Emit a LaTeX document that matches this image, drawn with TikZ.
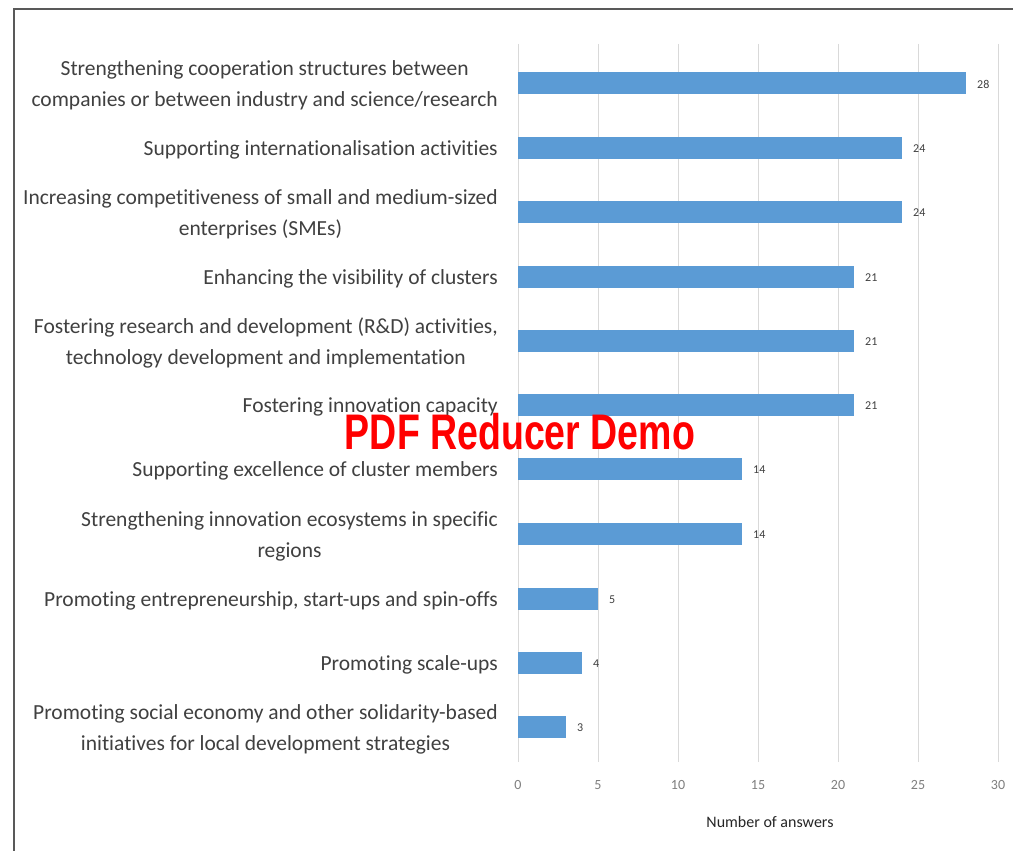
\documentclass[tikz,border=0pt]{standalone}
\usepackage{fontspec}
\setmainfont[Ligatures=NoCommon]{Carlito}
\newfontfamily\markfont{Liberation Sans}
\usetikzlibrary{positioning,calc}

\definecolor{barblue}{HTML}{5B9BD5}
\definecolor{labelgray}{HTML}{404040}
\definecolor{tickgray}{HTML}{7F7F7F}
\definecolor{gridgray}{HTML}{D9D9D9}
\definecolor{framegray}{HTML}{595959}

\tikzset{
	catlabel/.style={anchor=east, align=center, inner sep=0pt, text=labelgray,
		font=\fontsize{21.5}{31}\selectfont},
	vallabel/.style={anchor=west, inner sep=0pt, text=labelgray,
		font=\fontsize{12}{14}\selectfont},
	ticklabel/.style={inner sep=0pt, text=tickgray, font=\fontsize{14}{16}\selectfont},
	barfill/.style={fill=barblue},
	gridline/.style={draw=gridgray, line width=0.8pt},
}

\begin{document}
\begin{tikzpicture}[x=1pt, y=-1pt]
	
	% ------------------------------------------------
	% Page size and frame
	\useasboundingbox (0,0) rectangle (1013,851);
	\fill[white] (0,0) rectangle (1013,851);
	\draw[framegray, line width=1.5pt] (14,851) -- (14,9) -- (1013,9);
	
	% ------------------------------------------------
	% Axis origin and scale: 16 per answer
	\coordinate (Origin) at (518,0);
	
	% ----------------
	% Grid and ticks
	\foreach \v in {0,5,...,30}{
		\draw[gridline] (518+16*\v,44) -- (518+16*\v,762);
		\node[ticklabel] (Tick\v) at (518+16*\v,785) {\v};
	}
	
	% ----------------
	% Bars with category and value labels
	\foreach \val/\yy/\txt [count=\i] in {
		28/83/{Strengthening cooperation structures between\\companies or between industry and science/research},
		24/148/{Supporting internationalisation activities},
		24/212/{Increasing competitiveness of small and medium-sized\\enterprises (SMEs)},
		21/277/{Enhancing the visibility of clusters},
		21/341/{Fostering research and development (R\&D) activities,\\technology development and implementation},
		21/405/{Fostering innovation capacity},
		14/469/{Supporting excellence of cluster members},
		14/534/{Strengthening innovation ecosystems in specific\\regions},
		5/599/{Promoting entrepreneurship, start-ups and spin-offs},
		4/663/{Promoting scale-ups},
		3/727/{Promoting social economy and other solidarity-based\\initiatives for local development strategies}}{
		\fill[barfill] (518,\yy-11) rectangle (518+16*\val,\yy+11);
		\node[catlabel] (Cat\i) at (498,\yy+2) {\txt};
		\node[vallabel] (Val\i) at (518+16*\val+11,\yy+1) {\val};
	}
	
	% ----------------
	% Axis title
	\node[inner sep=0pt, text=black!85, font=\fontsize{16}{18}\selectfont] (AxisTitle) at (770,822) {Number of answers};
	
	% ----------------
	% Watermark
	\node[inner sep=0pt, text=red, xscale=0.75, font=\markfont\bfseries\fontsize{50}{50}\selectfont] (Mark) at (520,432) {PDF Reducer Demo};
	
\end{tikzpicture}
\end{document}
